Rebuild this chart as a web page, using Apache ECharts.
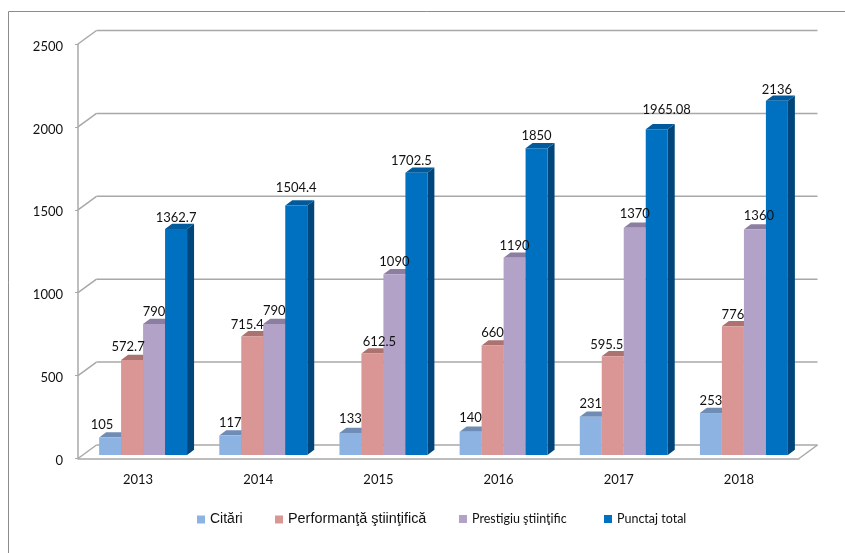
<!DOCTYPE html>
<html>
<head>
<meta charset="utf-8">
<style>html,body{margin:0;padding:0;background:#fff}#c{width:845px;height:553px}</style>
<script src="https://cdn.jsdelivr.net/npm/echarts@6/dist/echarts.min.js"></script>
</head>
<body>
<div id="c"></div>
<script>
const categories = ['2013','2014','2015','2016','2017','2018'];
const citari = [105,117,133,140,231,253];
const performanta = [572.7,715.4,612.5,660,595.5,776];
const prestigiu = [790,790,1090,1190,1370,1360];
const punctaj = [1362.7,1504.4,1702.5,1850,1965.08,2136];
const yTicks = [0,500,1000,1500,2000,2500];

// manual label nudges, per series then category, in px from the bar's centre and top
const labelNudge = [
  [[-8,-13],[0,-13],[0,-14],[0,-14],[0,-13],[0,-12]],
  [[-4,-13],[-5,-12],[7,-12],[0,-13],[-6,-11],[0,-12]],
  [[0,-12],[0,-13],[0,-12],[0,-12],[0,-14],[4,-14]],
  [[0,-11.5],[0,-18],[-5,-12],[0,-12],[10,-19],[0,-11]]
];

const seriesDefs = [
  {name:'Citări', values:citari, front:'#8db3e2', side:'#5f83ad', top:'#6f8db4'},
  {name:'Performanţă ştiinţifică', values:performanta, front:'#d99694', side:'#a86e6c', top:'#ab7270'},
  {name:'Prestigiu ştiinţific', values:prestigiu, front:'#b2a2c7', side:'#84759a', top:'#8c7ea0'},
  {name:'Punctaj total', values:punctaj, front:'#0070c0', side:'#00467a', top:'#005a9c'}
];

const WALL_DX = 18.5, WALL_DY = 13.5;   // depth of the chart box
const BAR_DX = 7, BAR_DY = 5.3;         // depth of a column
const BASE_DY = 3.5;                    // columns stand this far behind the front edge
const BAR_W = 0.183, GROUP_OFF = 5;     // column width as a share of a band

function wallItem(params, api){
  const cs = params.coordSys;
  const y = api.coord([0, api.value(1)])[1];
  const x0 = cs.x, x1 = cs.x + cs.width;
  const line = {stroke:'#a8a8a8', lineWidth:1.5};
  const kids = [
    {type:'line', shape:{x1:x0,y1:y,x2:x0+WALL_DX,y2:y-WALL_DY}, style:line},
    {type:'line', shape:{x1:x0+WALL_DX,y1:y-WALL_DY,x2:x1+WALL_DX,y2:y-WALL_DY}, style:line}
  ];
  if (api.value(1) === 0) {
    kids.push({type:'line', shape:{x1:x1,y1:y,x2:x1+WALL_DX,y2:y-WALL_DY}, style:line});
  }
  return {type:'group', children:kids};
}

function barItem(s){
  const def = seriesDefs[s];
  return function(params, api){
    const c = api.value(0), v = api.value(1);
    const band = api.size([1,0])[0];
    const w = band * BAR_W;
    const p = api.coord([c, v]);
    const b = api.coord([c, 0]);
    const xl = p[0] + GROUP_OFF + (s - 2) * w;
    const xr = xl + w;
    const yt = p[1] - BASE_DY, yb = b[1] - BASE_DY;
    const n = labelNudge[s][c];
    return {type:'group', children:[
      {type:'polygon', shape:{points:[[xr,yt],[xr+BAR_DX,yt-BAR_DY],[xr+BAR_DX,yb-BAR_DY],[xr,yb]]}, style:{fill:def.side}},
      {type:'polygon', shape:{points:[[xl,yt],[xl+BAR_DX,yt-BAR_DY],[xr+BAR_DX,yt-BAR_DY],[xr,yt]]}, style:{fill:def.top}},
      {type:'rect', shape:{x:xl,y:yt,width:w,height:yb-yt}, style:{fill:def.front}},
      {type:'text', z2:100, style:{text:String(v), x:xl+w/2+n[0], y:yt+n[1], align:'center', verticalAlign:'middle',
        fill:'#111', font:'13px Lato'}}
    ]};
  };
}

const chart = echarts.init(document.getElementById('c'), null, {renderer:'canvas'});
const legendFonts = [
  {left:197, fontFamily:'Liberation Sans', fontSize:14},
  {left:275, fontFamily:'Liberation Sans', fontSize:14.4},
  {left:459, fontFamily:'Lato', fontSize:12.5},
  {left:604, fontFamily:'Lato', fontSize:12.5}
];
chart.setOption({
  animation:false,
  backgroundColor:'#fff',
  grid:{left:78, right:46, top:44, bottom:94.5},
  xAxis:{type:'category', data:categories,
    axisLine:{lineStyle:{color:'#a8a8a8', width:1.5}},
    axisTick:{length:6, lineStyle:{color:'#a8a8a8', width:1}},
    axisLabel:{color:'#111', fontFamily:'Lato', fontSize:13, margin:15}},
  yAxis:{type:'value', min:0, max:2500, interval:500, splitLine:{show:false},
    axisLine:{show:true, lineStyle:{color:'#a8a8a8', width:1.5}},
    axisTick:{show:true, length:3, lineStyle:{color:'#a8a8a8', width:1}},
    axisLabel:{color:'#111', fontFamily:'Lato', fontSize:13, margin:15, verticalAlign:'top', lineHeight:5,
      formatter:function(v){return String(v);}}},
  legend: seriesDefs.map((d,i)=>({
    data:[{name:d.name, icon:'rect'}], left:legendFonts[i].left, top:512.5, padding:0,
    itemWidth:8, itemHeight:8,
    textStyle:{color:'#111', fontFamily:legendFonts[i].fontFamily, fontSize:legendFonts[i].fontSize}
  })),
  graphic:[{type:'polyline', silent:true, shape:{points:[[8.5,553],[8.5,11.5],[845,11.5]]},
    style:{stroke:'#8c8c8c', lineWidth:1, fill:'none'}}],
  series:[
    {type:'custom', silent:true, renderItem:wallItem, data:yTicks.map(t=>[0,t])}
  ].concat(seriesDefs.map((d,s)=>({
    type:'custom', name:d.name, itemStyle:{color:d.front}, renderItem:barItem(s),
    encode:{x:0,y:1}, data:d.values.map((v,i)=>[i,v])
  })))
});
</script>
</body>
</html>
